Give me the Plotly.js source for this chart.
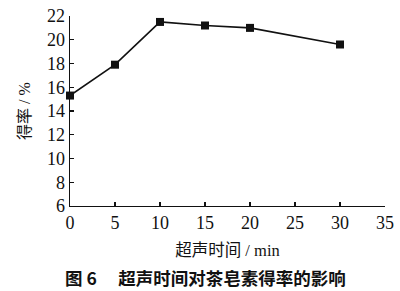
<!DOCTYPE html>
<html>
<head>
<meta charset="utf-8">
<script src="https://cdn.plot.ly/plotly-3.0.1.min.js"></script>
<style>html,body{margin:0;padding:0;background:#fff;}#chart{width:400px;height:291px;}</style>
</head>
<body>
<div id="chart"></div>
<script>
const timeMin = [0, 5, 10, 15, 20, 30];
const yieldPct = [15.3, 17.9, 21.5, 21.2, 21.0, 19.6];
const xTicks = [0, 5, 10, 15, 20, 25, 30, 35];
const yTicks = [6, 8, 10, 12, 14, 16, 18, 20, 22];
const xTitle = '超声时间 / min';
const yTitle = '得率 / %';
const caption = '<b>图 6　 超声时间对茶皂素得率的影响</b>';

const serif = 'Liberation Serif, Times New Roman, DejaVu Serif, Noto Sans CJK SC, serif';

Plotly.newPlot('chart', [{
  x: timeMin, y: yieldPct, type: 'scatter', mode: 'lines+markers',
  line: {color: '#111', width: 1.6},
  marker: {symbol: 'square', size: 8, color: '#111'},
  cliponaxis: false, showlegend: false
}], {
  width: 400, height: 291,
  margin: {l: 70, r: 15, t: 16, b: 85},
  paper_bgcolor: '#fff', plot_bgcolor: '#fff',
  font: {family: serif, color: '#111', size: 15},
  xaxis: {
    range: [0, 35], tickvals: xTicks, ticktext: xTicks.map(String),
    showline: true, linecolor: '#111', linewidth: 1.3, mirror: false,
    ticks: 'inside', ticklen: 4, tickcolor: '#111', tickwidth: 1.2,
    showgrid: false, zeroline: false,
    tickfont: {family: serif, size: 18, color: '#111'},
    title: {text: xTitle, font: {family: serif, size: 16.5, color: '#111'}, standoff: 12}
  },
  yaxis: {
    range: [6, 22], tickvals: yTicks, ticktext: yTicks.map(String),
    showline: true, linecolor: '#111', linewidth: 1.3, mirror: false,
    ticks: 'inside', ticklen: 4, tickcolor: '#111', tickwidth: 1.2,
    showgrid: false, zeroline: false,
    tickfont: {family: serif, size: 18, color: '#111'},
    title: {text: yTitle, font: {family: serif, size: 16, color: '#111'}, standoff: 12}
  },
  annotations: [{
    text: caption, xref: 'paper', yref: 'paper', x: 0.43, y: -0.378,
    xanchor: 'center', yanchor: 'middle', showarrow: false,
    font: {family: 'Noto Sans CJK SC, sans-serif', size: 17.5, color: '#111'}
  }]
}, {displayModeBar: false, staticPlot: true});
</script>
</body>
</html>
